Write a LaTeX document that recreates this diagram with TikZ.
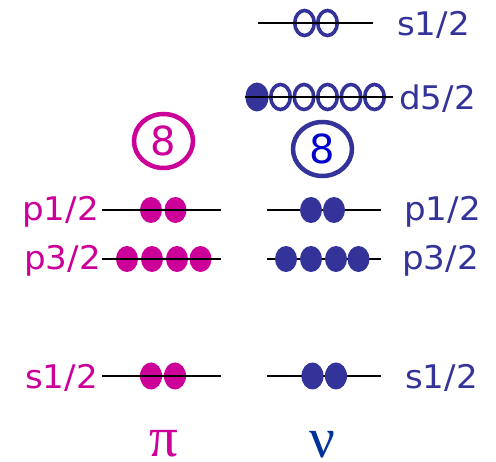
\documentclass[tikz,border=0pt]{standalone}
\usepackage{fontspec}
\setmainfont{DejaVu Sans}
\newfontfamily\greekfont{Liberation Serif}
\usetikzlibrary{shapes.geometric}
\definecolor{prot}{RGB}{204,0,153}
\definecolor{neut}{RGB}{51,51,153}
\definecolor{nublue}{RGB}{0,51,153}
\definecolor{eightblue}{RGB}{0,0,204}
\newcommand{\lab}[1]{\scalebox{1.1}[1.05]{#1}}
\begin{document}
\begin{tikzpicture}[x=1pt,y=-1pt,
  pdot/.style={ellipse,fill=prot,minimum width=22pt,minimum height=26pt,inner sep=0pt},
  ndot/.style={ellipse,fill=neut,minimum width=22pt,minimum height=26pt,inner sep=0pt},
  hole/.style={ellipse,draw=neut,line width=3.6pt,minimum width=19.5pt,minimum height=25pt,inner sep=0pt},
  level/.style={line width=2pt,black},
  plab/.style={text=prot,font=\fontsize{31}{31}\selectfont,inner sep=0pt},
  nlab/.style={text=neut,font=\fontsize{31}{31}\selectfont,inner sep=0pt},
  ring/.style={ellipse,line width=4.5pt,minimum width=59pt,minimum height=54pt,inner sep=0pt,font=\fontsize{40}{40}\selectfont},
  greek/.style={font=\greekfont\fontsize{57}{57}\selectfont,inner sep=0pt,anchor=base,text depth=0pt}]
\useasboundingbox (0,0) rectangle (496,462);

% ---- top neutron levels
\coordinate (s1a) at (258,23); \coordinate (s1b) at (373,23);
\node[hole] (h1) at (304.5,23) {};
\node[hole] (h2) at (327.5,23) {};
\draw[level] (s1a) -- (s1b);
\node[nlab,anchor=west] (ls1) at (397,25) {\lab{s1/2}};

\coordinate (d5a) at (245,97); \coordinate (d5b) at (393,97);
\node[ndot,minimum height=29pt,minimum width=23pt] (d0) at (257,97) {};
\node[hole] (d1) at (280.5,97) {};
\node[hole] (d2) at (304,97) {};
\node[hole] (d3) at (327.5,97) {};
\node[hole] (d4) at (351,97) {};
\node[hole] (d5) at (374.5,97) {};
\draw[level] (d5a) -- (d5b);
\node[nlab,anchor=west] (ld5) at (399,99) {\lab{d5/2}};

% ---- magic number rings
\node[ring,draw=prot,text=prot] (rp) at (163.5,141) {8};
\node[ring,draw=neut,text=eightblue] (rn) at (322.5,149) {8};

% ---- p1/2
\coordinate (pp1a) at (102,210); \coordinate (pp1b) at (221,210);
\node[pdot] (pp11) at (151,210) {};
\node[pdot] (pp12) at (175.5,210) {};
\draw[level] (pp1a) -- (pp1b);
\node[plab,anchor=east] (lpp1) at (99,212) {\lab{p1/2}};

\coordinate (np1a) at (267,210); \coordinate (np1b) at (381,210);
\draw[level] (np1a) -- (np1b);
\node[ndot] (np11) at (311,210) {};
\node[ndot] (np12) at (334,210) {};
\node[nlab,anchor=west] (lnp1) at (404,212) {\lab{p1/2}};

% ---- p3/2
\coordinate (pp3a) at (102,259); \coordinate (pp3b) at (221,259);
\node[pdot] (pp31) at (127,259) {};
\node[pdot] (pp32) at (152,259) {};
\node[pdot] (pp33) at (177,259) {};
\node[pdot] (pp34) at (200.5,259) {};
\draw[level] (pp3a) -- (pp3b);
\node[plab,anchor=east] (lpp3) at (101,261) {\lab{p3/2}};

\coordinate (np3a) at (267,259); \coordinate (np3b) at (381,259);
\draw[level] (np3a) -- (np3b);
\node[ndot] (np31) at (286,259) {};
\node[ndot] (np32) at (311,259) {};
\node[ndot] (np33) at (336,259) {};
\node[ndot] (np34) at (358.5,259) {};
\node[nlab,anchor=west] (lnp3) at (402,261) {\lab{p3/2}};

% ---- s1/2
\coordinate (ps1a) at (102,376); \coordinate (ps1b) at (221,376);
\node[pdot,minimum height=27pt] (ps11) at (151,376) {};
\node[pdot,minimum height=27pt] (ps12) at (175,376) {};
\draw[level] (ps1a) -- (ps1b);
\node[plab,anchor=east] (lps1) at (98,378) {\lab{s1/2}};

\coordinate (ns1a) at (267,376); \coordinate (ns1b) at (381,376);
\draw[level] (ns1a) -- (ns1b);
\node[ndot,minimum height=27pt] (ns11) at (312.5,376) {};
\node[ndot,minimum height=27pt] (ns12) at (336,376) {};
\node[nlab,anchor=west] (lns1) at (405,378) {\lab{s1/2}};

% ---- particle symbols
\node[greek,text=prot] (pi) at (164,457) {π};
\node[greek,text=nublue] (nu) at (322,458) {ν};
\end{tikzpicture}
\end{document}
